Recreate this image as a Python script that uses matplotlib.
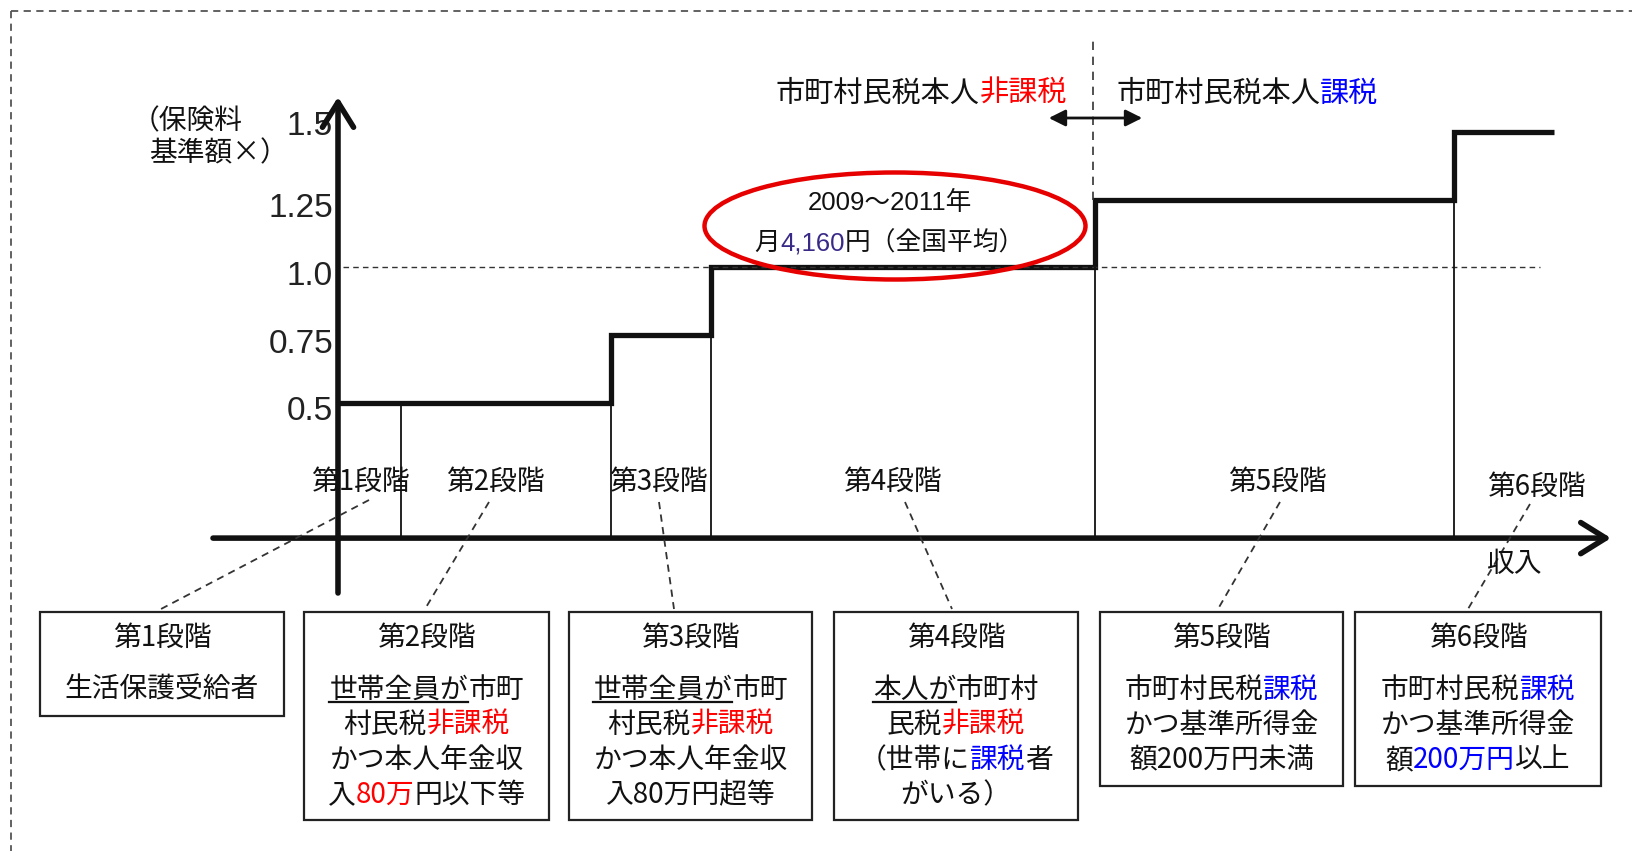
import numpy as np
import matplotlib.pyplot as plt
from matplotlib.patches import Ellipse, Rectangle, FancyArrowPatch
from matplotlib.transforms import offset_copy

JP = ['Noto Sans CJK JP', 'DejaVu Sans']
NUM = ['Liberation Sans', 'Noto Sans CJK JP', 'DejaVu Sans']
INK = '#111111'
RED = '#ff0000'
BLUE = '#0000ff'

# ---- data ----
stage_names = ['第1段階', '第2段階', '第3段階', '第4段階', '第5段階', '第6段階']
stage_rates = [0.5, 0.5, 0.75, 1.0, 1.25, 1.5]
# schematic income positions of the stage boundaries (no real scale)
stage_edges = [338, 401, 611, 711, 1095, 1454, 1554]
tick_levels = [0.5, 0.75, 1.0, 1.25, 1.5]
tick_labels = ['0.5', '0.75', '1.0', '1.25', '1.5']
base_level = 1.0
avg_years = '2009〜2011年'
avg_amount = '4,160'

box_lines = [
    [[('生活保護受給者', INK)]],
    [[('世帯全員が', INK, True), ('市町', INK)],
     [('村民税', INK), ('非課税', RED)],
     [('かつ本人年金収', INK)],
     [('入', INK), ('80万', RED), ('円以下等', INK)]],
    [[('世帯全員が', INK, True), ('市町', INK)],
     [('村民税', INK), ('非課税', RED)],
     [('かつ本人年金収', INK)],
     [('入80万円超等', INK)]],
    [[('本人が', INK, True), ('市町村', INK)],
     [('民税', INK), ('非課税', RED)],
     [('（世帯に', INK), ('課税', BLUE), ('者', INK)],
     [('がいる）', INK)]],
    [[('市町村民税', INK), ('課税', BLUE)],
     [('かつ基準所得金', INK)],
     [('額200万円未満', INK)]],
    [[('市町村民税', INK), ('課税', BLUE)],
     [('かつ基準所得金', INK)],
     [('額', INK), ('200万円', BLUE), ('以上', INK)]],
]

# ---- layout ----
W, H = 1632, 851
fig = plt.figure(figsize=(W / 100, H / 100), dpi=100)
ax = fig.add_axes([0, 0, 1, 1])
ax.set_xlim(0, W)
ax.set_ylim(-1.156, 1.988)
ax.axis('off')
lay = fig.add_axes([0, 0, 1, 1])
lay.set_xlim(0, W)
lay.set_ylim(H, 0)
lay.axis('off')

renderer = fig.canvas.get_renderer()


def text_width(s, size, family=JP):
    if not s:
        return 0.0
    t = lay.text(0, 0, s, fontsize=size, family=family)
    w = t.get_window_extent(renderer).width
    t.remove()
    return w


def rich(x, y, segs, size=20, ha='center', family=JP):
    full = ''.join(sg[0] for sg in segs)
    tw = text_width(full, size, family)
    if ha == 'center':
        left = x - tw / 2
    elif ha == 'right':
        left = x - tw
    else:
        left = x
    prefix = ''
    for sg in segs:
        s, c = sg[0], sg[1]
        x0 = left + text_width(prefix, size, family)
        lay.text(x0, y, s, color=c, fontsize=size, ha='left', va='center', family=family)
        if len(sg) > 2 and sg[2]:
            lay.plot([x0, x0 + text_width(s, size, family)], [y + 12, y + 12], color=c, lw=1.6)
        prefix += s


# dotted frame
lay.plot([11, W], [11, 11], color='#555555', lw=1.3, ls=(0, (4, 3)))
lay.plot([11, 11], [11, H], color='#555555', lw=1.3, ls=(0, (4, 3)))

# base level dashed line
ax.hlines(base_level, stage_edges[0] + 5, 1540, colors='#333333', linestyles=(0, (4, 3)), lw=1.0)

# thin boundaries
for i in range(1, len(stage_edges) - 1):
    ax.vlines(stage_edges[i], 0, min(stage_rates[i - 1], stage_rates[i]), colors=INK, lw=1.3)

# separator between non-taxed / taxed
ax.vlines(stage_edges[4] - 2, stage_rates[4], 1.855, colors='#333333', linestyles=(0, (5, 4)), lw=1.2)
lay.add_patch(FancyArrowPatch((1046, 118), (1145, 118), arrowstyle='<|-|>,head_length=0.5,head_width=0.25',
                              mutation_scale=20, lw=2, color=INK))

# step line
ax.stairs(stage_rates, stage_edges, baseline=None, color=INK, lw=3.8)

# axes arrows
ax.add_patch(FancyArrowPatch((213, 0), (1611, 0), arrowstyle='->,head_length=0.45,head_width=0.28',
                             mutation_scale=40, lw=4, color=INK, shrinkA=0, shrinkB=0))
lay.add_patch(FancyArrowPatch((stage_edges[0], 593), (stage_edges[0], 97),
                              arrowstyle='->,head_length=0.45,head_width=0.28',
                              mutation_scale=40, lw=4, color=INK, shrinkA=0, shrinkB=0))

# tick labels (small vertical nudges, in pixels)
tick_nudge = [-9, -9, -9, -9, 6]
for lv, lb, dy in zip(tick_levels, tick_labels, tick_nudge):
    tr = offset_copy(ax.transData, fig=fig, x=0, y=dy, units='dots')
    ax.text(333, lv, lb, ha='right', va='center', fontsize=24, family=NUM, color='#222222',
            transform=tr)

lay.text(132, 121, '（保険料', fontsize=20, family=JP, ha='left', va='center', color=INK)
lay.text(149, 153, '基準額×）', fontsize=20, family=JP, ha='left', va='center', color=INK)
lay.text(1514, 564, '収入', fontsize=20, family=JP, ha='center', va='center', color=INK)

# headers
rich(1067, 94, [('市町村民税本人', INK), ('非課税', RED)], size=21, ha='right')
rich(1116, 94, [('市町村民税本人', INK), ('課税', BLUE)], size=21, ha='left')

# average callout
lay.add_patch(Ellipse((895, 226), 381, 107, fill=False, ec='#e60000', lw=3.2))
lay.text(890, 203, avg_years, fontsize=18.5, family=NUM, ha='center', va='center', color=INK)
rich(890, 243, [('月', INK), (avg_amount, '#3a2a88'), ('円（全国平均）', INK)], size=18.5, family=NUM)

# stage labels and leaders
label_xy = [(360, 482), (495, 482), (658, 482), (892, 482), (1277, 482), (1536, 487)]
leaders = [((369, 500), (161, 609)), ((489, 502), (425, 609)), ((659, 502), (674, 609)),
           ((905, 502), (952, 609)), ((1280, 502), (1218, 609)), ((1530, 504), (1468, 609))]
for name, (lx, ly) in zip(stage_names, label_xy):
    lay.text(lx, ly, name, fontsize=20, family=JP, ha='center', va='center', color=INK)
for (a, b) in leaders:
    lay.plot([a[0], b[0]], [a[1], b[1]], color='#333333', lw=1.3, ls=(0, (4, 3)))

# boxes
boxes = [(40, 612, 244, 104), (304, 612, 245, 208), (569, 612, 243, 208),
         (834, 612, 244, 208), (1100, 612, 243, 174), (1355, 612, 246, 174)]
for name, (bx, by, bw, bh), lines in zip(stage_names, boxes, box_lines):
    lay.add_patch(Rectangle((bx, by), bw, bh, fill=True, fc='white', ec='#222222', lw=1.6))
    cx = bx + bw / 2
    lay.text(cx, 638, name, fontsize=20, family=JP, ha='center', va='center', color=INK)
    for k, segs in enumerate(lines):
        rich(cx, 690 + 35 * k, segs, size=20)

fig.savefig('out.png', dpi=100)
